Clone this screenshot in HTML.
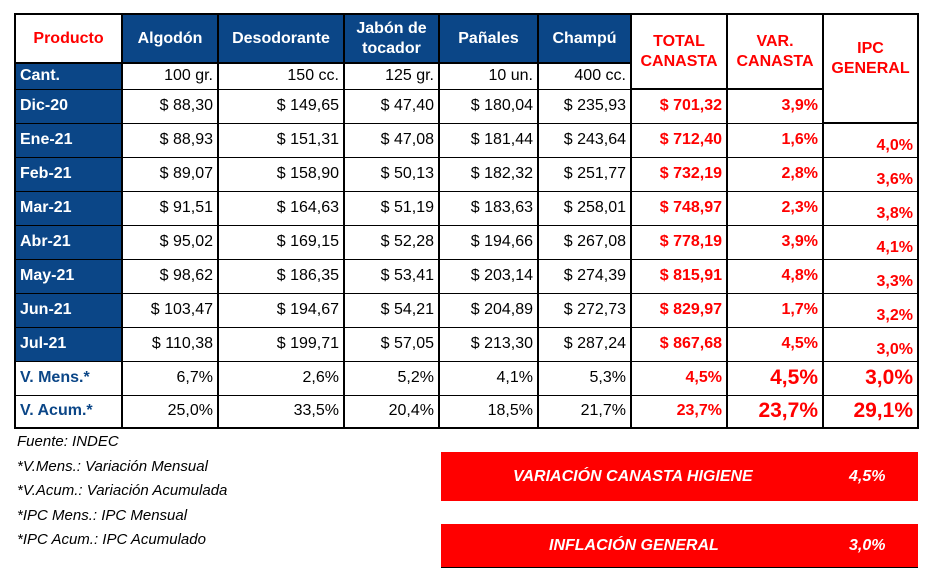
<!DOCTYPE html>
<html><head><meta charset="utf-8"><style>
body{margin:0;width:929px;height:580px;background:#fff;position:relative;font-family:"Liberation Sans",sans-serif;overflow:hidden}
table{position:absolute;left:14px;top:13px;border-collapse:collapse;table-layout:fixed}
td{border:1px solid #000;border-left:2px solid #000;border-right:2px solid #000;padding:0 4px;font-size:16px;text-align:right;white-space:nowrap;color:#000;overflow:hidden}
.h td{border-top:2px solid #000;border-bottom:2px solid #000;text-align:center;font-weight:bold;color:#fff;background:#0b4687;line-height:20px}
.h td.r{background:#fff;color:#f00}
.b{background:#0b4687;color:#fff;font-weight:bold;text-align:left}
.bl{color:#0b4687;font-weight:bold;text-align:left}
.red{color:#f00;font-weight:bold}
.big{font-size:21px}
.ipc{vertical-align:bottom;padding-bottom:2px}
tr.last td{border-bottom:2px solid #000}
.notes{position:absolute;left:17px;top:430px;font-style:italic;font-size:15px;line-height:24.5px}
.box{position:absolute;left:441px;width:477px;background:#f00;color:#fff;font-weight:bold;font-style:italic;font-size:16px}
.box span{position:absolute;top:50%;transform:translateY(-50%)}
</style></head><body>
<table>
<colgroup><col style="width:107px"><col style="width:96px"><col style="width:126px"><col style="width:95px"><col style="width:99px"><col style="width:93px"><col style="width:96px"><col style="width:96px"><col style="width:95px"></colgroup>
<tr class="h" style="height:49px"><td class="r">Producto</td><td>Algodón</td><td>Desodorante</td><td>Jabón de<br>tocador</td><td>Pañales</td><td>Champú</td><td class="r" rowspan="2">TOTAL<br>CANASTA</td><td class="r" rowspan="2">VAR.<br>CANASTA</td><td class="r" rowspan="3">IPC<br>GENERAL<br><br></td></tr>
<tr style="height:26px"><td class="b">Cant.</td><td>100 gr.</td><td>150 cc.</td><td>125 gr.</td><td>10 un.</td><td>400 cc.</td></tr>
<tr style="height:34px"><td class="b">Dic-20</td><td>$ 88,30</td><td>$ 149,65</td><td>$ 47,40</td><td>$ 180,04</td><td>$ 235,93</td><td class="red">$ 701,32</td><td class="red">3,9%</td></tr>
<tr style="height:34px"><td class="b">Ene-21</td><td>$ 88,93</td><td>$ 151,31</td><td>$ 47,08</td><td>$ 181,44</td><td>$ 243,64</td><td class="red">$ 712,40</td><td class="red">1,6%</td><td class="red ipc">4,0%</td></tr>
<tr style="height:34px"><td class="b">Feb-21</td><td>$ 89,07</td><td>$ 158,90</td><td>$ 50,13</td><td>$ 182,32</td><td>$ 251,77</td><td class="red">$ 732,19</td><td class="red">2,8%</td><td class="red ipc">3,6%</td></tr>
<tr style="height:34px"><td class="b">Mar-21</td><td>$ 91,51</td><td>$ 164,63</td><td>$ 51,19</td><td>$ 183,63</td><td>$ 258,01</td><td class="red">$ 748,97</td><td class="red">2,3%</td><td class="red ipc">3,8%</td></tr>
<tr style="height:34px"><td class="b">Abr-21</td><td>$ 95,02</td><td>$ 169,15</td><td>$ 52,28</td><td>$ 194,66</td><td>$ 267,08</td><td class="red">$ 778,19</td><td class="red">3,9%</td><td class="red ipc">4,1%</td></tr>
<tr style="height:34px"><td class="b">May-21</td><td>$ 98,62</td><td>$ 186,35</td><td>$ 53,41</td><td>$ 203,14</td><td>$ 274,39</td><td class="red">$ 815,91</td><td class="red">4,8%</td><td class="red ipc">3,3%</td></tr>
<tr style="height:34px"><td class="b">Jun-21</td><td>$ 103,47</td><td>$ 194,67</td><td>$ 54,21</td><td>$ 204,89</td><td>$ 272,73</td><td class="red">$ 829,97</td><td class="red">1,7%</td><td class="red ipc">3,2%</td></tr>
<tr style="height:34px"><td class="b">Jul-21</td><td>$ 110,38</td><td>$ 199,71</td><td>$ 57,05</td><td>$ 213,30</td><td>$ 287,24</td><td class="red">$ 867,68</td><td class="red">4,5%</td><td class="red ipc">3,0%</td></tr>
<tr style="height:34px"><td class="bl">V. Mens.*</td><td>6,7%</td><td>2,6%</td><td>5,2%</td><td>4,1%</td><td>5,3%</td><td class="red">4,5%</td><td class="red big">4,5%</td><td class="red big">3,0%</td></tr>
<tr class="last" style="height:33px"><td class="bl">V. Acum.*</td><td>25,0%</td><td>33,5%</td><td>20,4%</td><td>18,5%</td><td>21,7%</td><td class="red">23,7%</td><td class="red big">23,7%</td><td class="red big">29,1%</td></tr>
</table>
<div class="notes">Fuente: INDEC<br>*V.Mens.: Variación Mensual<br>*V.Acum.: Variación Acumulada<br>*IPC Mens.: IPC Mensual<br>*IPC Acum.: IPC Acumulado</div>
<div class="box" style="top:452px;height:49px"><span style="left:72px">VARIACIÓN CANASTA HIGIENE</span><span style="left:408px">4,5%</span></div>
<div class="box" style="top:524px;height:43px;border-bottom:1px solid #000"><span style="left:108px">INFLACIÓN GENERAL</span><span style="left:408px">3,0%</span></div>
</body></html>
